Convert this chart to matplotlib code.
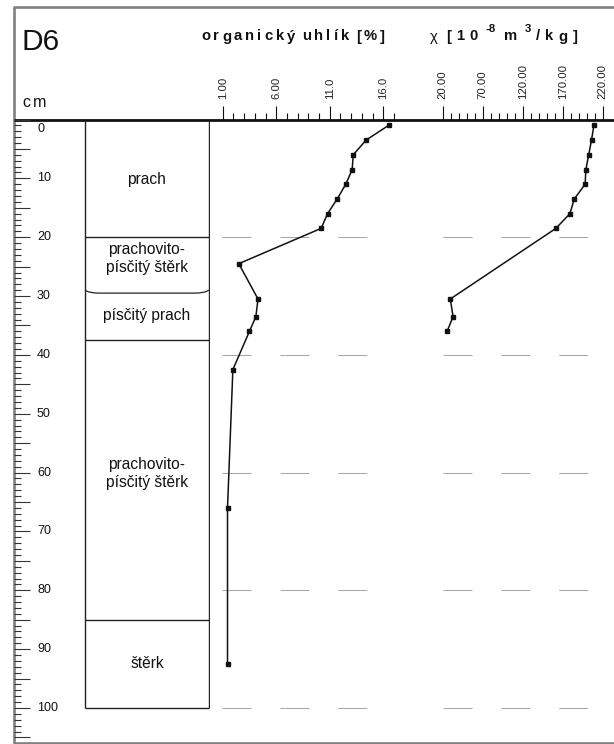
import matplotlib
matplotlib.use('Agg')
import matplotlib.pyplot as plt
from matplotlib import font_manager
from matplotlib.path import Path
from matplotlib.patches import PathPatch
from matplotlib.ticker import FixedLocator

# ---------------- data ----------------
depth_oc = [1, 3.5, 6, 8.5, 11, 13.5, 16, 18.5, 24.5, 30.5, 33.5, 36, 42.5, 66, 92.5]
oc_vals = [16.5, 14.4, 13.2, 13.1, 12.5, 11.7, 10.8, 10.2, 2.5, 4.3, 4.1, 3.5, 1.95, 1.45, 1.45]

depth_chi = [1, 3.5, 6, 8.5, 11, 13.5, 16, 18.5, 30.5, 33.5, 36]
chi_vals = [209, 206, 202.5, 199, 198, 184.5, 179, 161.5, 29.5, 33, 25.5]

oc_major = [1, 6, 11, 16]
oc_major_labels = ['1.00', '6.00', '11.0', '16.0']
oc_minor = [2, 3, 4, 5, 7, 8, 9, 10, 12, 13, 14, 15, 17]

chi_major = [20, 70, 120, 170, 220]
chi_major_labels = ['20.00', '70.00', '120.00', '170.00', '220.00']
chi_minor = [v for v in range(30, 220, 10) if v not in chi_major]

layer_tops = [0, 20, 29.5, 37.5, 85]
layer_bottoms = [20, 29.5, 37.5, 85, 100]
layer_names = ['prach', 'prachovito-\npísčitý štěrk', 'písčitý prach',
               'prachovito-\npísčitý štěrk', 'štěrk']
layer_label_depth = [10.2, 23.6, 33.3, 60.1, 92.5]

depth_labels = list(range(0, 101, 10))
depth_major = list(range(0, 106, 5))
depth_minor = [d for d in range(0, 106) if d % 5 != 0]
grid_depths = [20, 40, 60, 80, 100]

# ---------------- fonts ----------------
names = {f.name for f in font_manager.fontManager.ttflist}
if 'Liberation Sans Narrow' in names:
    FAM = ['Liberation Sans Narrow', 'DejaVu Sans']
    sc = 1.0
else:
    FAM = ['Liberation Sans', 'DejaVu Sans']
    sc = 0.86
plt.rcParams['font.family'] = FAM

# ---------------- layout ----------------
W, H = 614, 744
fig = plt.figure(figsize=(W / 100, H / 100), dpi=100)
fig.patch.set_facecolor('white')

Y0 = 119.5          # pixel row of depth 0
PXCM = 5.885        # pixels per cm
YB = 743            # bottom of frame
DMAX = (YB - Y0) / PXCM


def fx(p):
    return p / W


def fy(p):
    return 1 - p / H


ax_bg = fig.add_axes([0, 0, 1, 1])
ax_bg.set_xlim(0, W)
ax_bg.set_ylim(H, 0)
ax_bg.axis('off')

# frame
frame_c = '#808080'
ax_bg.plot([14, 14], [7, YB], color=frame_c, lw=1.9, solid_capstyle='butt')
ax_bg.plot([13, W], [7, 7], color=frame_c, lw=1.9, solid_capstyle='butt')
ax_bg.plot([13, W], [YB, YB], color=frame_c, lw=1.9, solid_capstyle='butt')
# depth zero line
ax_bg.plot([14, W], [Y0, Y0], color='#111111', lw=2.0, solid_capstyle='butt', zorder=5)

renderer = fig.canvas.get_renderer()


def tracked(segments, x0, x1, y, space_px):
    """segments: (text, fontsize, weight, dy, split)"""
    items = []
    for s, fs, wt, dy, split in segments:
        parts = list(s) if split else [s]
        for ch in parts:
            if ch == ' ':
                items.append(None)
                continue
            t = ax_bg.text(0, y - dy, ch, fontsize=fs, fontweight=wt,
                           ha='left', va='baseline', color='#111111')
            w = t.get_window_extent(renderer).width
            items.append((t, w))
    chars = [it for it in items if it is not None]
    nsp = items.count(None)
    tot = sum(w for _, w in chars)
    g = (x1 - x0 - tot - nsp * space_px) / max(len(chars) - 1, 1)
    cur = x0
    for it in items:
        if it is None:
            cur += space_px
            continue
        t, w = it
        t.set_x(cur)
        cur += w + g


ax_bg.text(22, 50, 'D6', fontsize=25 * sc, ha='left', va='baseline', color='#111111')
tracked([('cm', 13.5 * sc, 'normal', 0, True)], 22, 46, 107, 0)
tracked([('organický uhlík [%]', 12.5 * sc, 'bold', 0, True)], 201, 385, 40.5, 4)
tracked([('χ', 12.5 * sc, 'normal', 0, True), (' ', 12, 'bold', 0, True),
         ('[10', 12.5 * sc, 'bold', 0, True), (' ', 12, 'bold', 0, True),
         ('-8', 9.5 * sc, 'bold', 8, False), (' ', 12, 'bold', 0, True),
         ('m', 12.5 * sc, 'bold', 0, True), (' ', 12, 'bold', 0, True),
         ('3', 9.5 * sc, 'bold', 8, False),
         ('/kg]', 12.5 * sc, 'bold', 0, True)], 430, 578, 40.5, 3)

hgt = (YB - Y0) / H

# ---------------- lithology column + depth ruler ----------------
ax_col = fig.add_axes([fx(14), fy(YB), fx(209.5) - fx(14), hgt])
ax_col.set_facecolor('none')
ax_col.set_xlim(14, 209.5)
ax_col.set_ylim(DMAX, 0)
for s in ax_col.spines.values():
    s.set_visible(False)
ax_col.set_xticks([])
ax_col.yaxis.set_major_locator(FixedLocator(depth_major))
ax_col.yaxis.set_minor_locator(FixedLocator(depth_minor))
ax_col.tick_params(axis='y', which='major', direction='in', length=11.5, width=0.8,
                   color='#333333', labelleft=False)
ax_col.tick_params(axis='y', which='minor', direction='in', length=5, width=0.8,
                   color='#333333')
for d in depth_labels:
    if d == 0:
        ax_col.text(37, 0.55, str(d), fontsize=10.5 * sc, ha='left', va='top', color='#111111')
    else:
        ax_col.text(37, d, str(d), fontsize=10.5 * sc, ha='left', va='center', color='#111111')

CL, CR = 85, 208.8
lk = dict(color='#222222', lw=1.0, solid_capstyle='butt')
ax_col.plot([CL, CL], [0, layer_bottoms[-1]], **lk)
ax_col.plot([CR, CR], [0, layer_bottoms[-1]], **lk)
for top, bot in zip(layer_tops[1:], layer_bottoms[1:]):
    if top == 29.5:
        verts = [(CL, top - 0.5), (CL + 4, top), (CL + 14, top), (CR - 14, top),
                 (CR - 4, top), (CR, top - 0.5)]
        codes = [Path.MOVETO, Path.CURVE3, Path.CURVE3, Path.LINETO, Path.CURVE3, Path.CURVE3]
        ax_col.add_patch(PathPatch(Path(verts, codes), fill=False, ec='#222222', lw=0.9))
    else:
        ax_col.plot([CL, CR], [top, top], **lk)
ax_col.plot([CL, CR], [layer_bottoms[-1], layer_bottoms[-1]], **lk)
for name, dl in zip(layer_names, layer_label_depth):
    ax_col.text((CL + CR) / 2, dl, name, fontsize=13 * sc, ha='center', va='center',
                linespacing=1.25, color='#111111')


# ---------------- data panels ----------------
def panel(px0, px1, v_at, major, major_labels, minor, gx0, gx1, xs, ds):
    ax = fig.add_axes([fx(px0), fy(YB), fx(px1) - fx(px0), hgt])
    ax.set_facecolor('none')
    ax.set_xlim(v_at(px0), v_at(px1))
    ax.set_ylim(DMAX, 0)
    for s in ax.spines.values():
        s.set_visible(False)
    ax.set_yticks([])
    ax.xaxis.tick_top()
    ax.xaxis.set_major_locator(FixedLocator(major))
    ax.xaxis.set_minor_locator(FixedLocator(minor))
    ax.set_xticklabels(major_labels)
    ax.tick_params(axis='x', which='major', direction='out', length=10, width=0.8,
                   color='#111111', labelsize=9.5 * sc, labelrotation=90, pad=5,
                   labelcolor='#222222')
    ax.tick_params(axis='x', which='minor', direction='out', length=5, width=0.8,
                   color='#111111')
    ax.hlines(grid_depths, gx0, gx1, colors='#a8a8a8', lw=0.75,
              linestyles=[(0, (27.8, 27.8))], zorder=1)
    ax.plot(xs, ds, '-', color='#111111', lw=1.1, zorder=3)
    ax.plot(xs, ds, 's', color='#111111', ms=2.4, zorder=4)
    return ax


def oc_at(p):
    return 1 + (p - 222.7) / 10.7


def chi_at(p):
    return 20 + (p - 442.7) / 0.8


panel(210, 400, oc_at, oc_major, oc_major_labels, oc_minor,
      oc_at(221.7), 17.0, oc_vals, depth_oc)
panel(425, 614, chi_at, chi_major, chi_major_labels, chi_minor,
      chi_at(443), 225, chi_vals, depth_chi)

fig.savefig('out.png', dpi=100, facecolor='white')
